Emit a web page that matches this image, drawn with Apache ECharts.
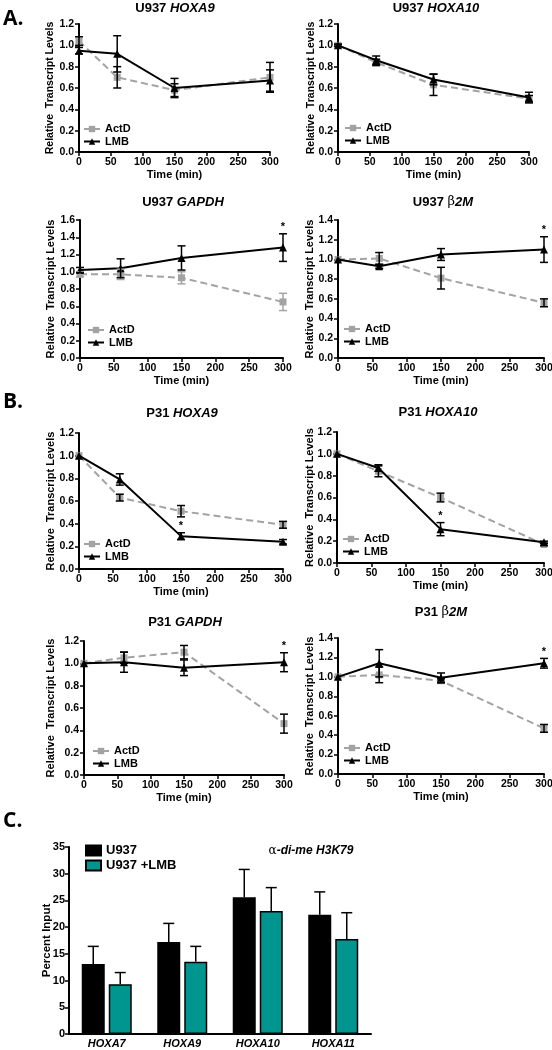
<!DOCTYPE html>
<html><head><meta charset="utf-8">
<script src="https://cdn.jsdelivr.net/npm/echarts@6/dist/echarts.min.js"></script>
<style>html,body{margin:0;padding:0;background:#fff}#c{width:552px;height:1050px}</style>
</head><body><div id="c"></div>
<script>
// ---------- DATA ----------
const timePoints = [0, 60, 150, 300];
const timeTicks = [0, 50, 100, 150, 200, 250, 300];

// Panel A: U937
const u937Hoxa9ActD = [1.04, 0.70, 0.58, 0.70];
const u937Hoxa9ActDErr = [0.04, 0.10, 0.06, 0.14];
const u937Hoxa9LMB = [0.95, 0.92, 0.60, 0.67];
const u937Hoxa9LMBErr = [0.03, 0.17, 0.09, 0.10];
const u937Hoxa9Sig = [0, 0, 0, 0];

const u937Hoxa10ActD = [1.00, 0.84, 0.63, 0.50];
const u937Hoxa10ActDErr = [0.01, 0.03, 0.10, 0.03];
const u937Hoxa10LMB = [1.00, 0.86, 0.68, 0.51];
const u937Hoxa10LMBErr = [0.01, 0.04, 0.05, 0.05];
const u937Hoxa10Sig = [0, 0, 0, 0];

const u937GapdhActD = [0.97, 0.97, 0.93, 0.65];
const u937GapdhActDErr = [0.03, 0.06, 0.07, 0.10];
const u937GapdhLMB = [1.02, 1.04, 1.16, 1.28];
const u937GapdhLMBErr = [0.03, 0.11, 0.14, 0.16];
const u937GapdhSig = [0, 0, 0, 1];

const u937B2mActD = [1.00, 1.01, 0.81, 0.56];
const u937B2mActDErr = [0.00, 0.06, 0.11, 0.04];
const u937B2mLMB = [1.00, 0.93, 1.05, 1.10];
const u937B2mLMBErr = [0.00, 0.02, 0.06, 0.13];
const u937B2mSig = [0, 0, 0, 1];

// Panel B: P31
const p31Hoxa9ActD = [1.00, 0.63, 0.51, 0.39];
const p31Hoxa9ActDErr = [0.00, 0.03, 0.05, 0.03];
const p31Hoxa9LMB = [1.00, 0.79, 0.29, 0.24];
const p31Hoxa9LMBErr = [0.00, 0.05, 0.03, 0.02];
const p31Hoxa9Sig = [0, 0, 1, 0];

const p31Hoxa10ActD = [1.00, 0.84, 0.60, 0.17];
const p31Hoxa10ActDErr = [0.00, 0.05, 0.04, 0.01];
const p31Hoxa10LMB = [1.00, 0.87, 0.31, 0.19];
const p31Hoxa10LMBErr = [0.00, 0.03, 0.06, 0.01];
const p31Hoxa10Sig = [0, 0, 1, 0];

const p31GapdhActD = [1.00, 1.05, 1.10, 0.46];
const p31GapdhActDErr = [0.00, 0.05, 0.06, 0.085];
const p31GapdhLMB = [1.00, 1.01, 0.96, 1.01];
const p31GapdhLMBErr = [0.00, 0.09, 0.07, 0.085];
const p31GapdhSig = [0, 0, 0, 1];

const p31B2mActD = [1.00, 1.02, 0.96, 0.47];
const p31B2mActDErr = [0.00, 0.08, 0.02, 0.04];
const p31B2mLMB = [1.00, 1.14, 0.99, 1.14];
const p31B2mLMBErr = [0.00, 0.14, 0.05, 0.05];
const p31B2mSig = [0, 0, 0, 1];

// Panel C: ChIP
const chipGenes = ['HOXA7', 'HOXA9', 'HOXA10', 'HOXA11'];
const chipU937 = [13.1, 17.2, 25.6, 22.3];
const chipU937Err = [3.3, 3.5, 5.2, 4.3];
const chipU937LMB = [9.3, 13.5, 23.0, 17.8];
const chipU937LMBErr = [2.2, 2.9, 4.4, 4.9];

// ---------- LAYOUT / STYLE ----------
const FONT = 'Liberation Sans, Arial, sans-serif';
const GREY = '#a3a3a3';
const TEAL = '#00968f';

const panels = [
  {cell:'U937', gene:'HOXA9', actd:u937Hoxa9ActD, actdErr:u937Hoxa9ActDErr, lmb:u937Hoxa9LMB, lmbErr:u937Hoxa9LMBErr, sig:u937Hoxa9Sig, ymax:1.2,
   grid:[79,24,191,128], title:[175,8], leg:[83,128], nameGap:23, nameSize:10.5, actdErrColor:'#000'},
  {cell:'U937', gene:'HOXA10', actd:u937Hoxa10ActD, actdErr:u937Hoxa10ActDErr, lmb:u937Hoxa10LMB, lmbErr:u937Hoxa10LMBErr, sig:u937Hoxa10Sig, ymax:1.2,
   grid:[338,24,191,128], title:[436,8], leg:[344,127], nameGap:21, nameSize:10.5, actdErrColor:'#000'},
  {cell:'U937', gene:'GAPDH', actd:u937GapdhActD, actdErr:u937GapdhActDErr, lmb:u937GapdhLMB, lmbErr:u937GapdhLMBErr, sig:u937GapdhSig, ymax:1.6,
   grid:[80,220,203,138], title:[183,202], leg:[87,329], nameGap:24, nameSize:11, actdErrColor:GREY},
  {cell:'U937', gene:'β2M', actd:u937B2mActD, actdErr:u937B2mActDErr, lmb:u937B2mLMB, lmbErr:u937B2mLMBErr, sig:u937B2mSig, ymax:1.4,
   grid:[338,220,206,138], title:[443,202], leg:[343,328], nameGap:23, nameSize:11, actdErrColor:'#000'},
  {cell:'P31', gene:'HOXA9', actd:p31Hoxa9ActD, actdErr:p31Hoxa9ActDErr, lmb:p31Hoxa9LMB, lmbErr:p31Hoxa9LMBErr, sig:p31Hoxa9Sig, ymax:1.2,
   grid:[79,433,204,136], title:[182,413], leg:[83,543], nameGap:23, nameSize:11, actdErrColor:'#000'},
  {cell:'P31', gene:'HOXA10', actd:p31Hoxa10ActD, actdErr:p31Hoxa10ActDErr, lmb:p31Hoxa10LMB, lmbErr:p31Hoxa10LMBErr, sig:p31Hoxa10Sig, ymax:1.2,
   grid:[337,432,207,131], title:[438,412], leg:[342,538], nameGap:22, nameSize:11, actdErrColor:'#000'},
  {cell:'P31', gene:'GAPDH', actd:p31GapdhActD, actdErr:p31GapdhActDErr, lmb:p31GapdhLMB, lmbErr:p31GapdhLMBErr, sig:p31GapdhSig, ymax:1.2,
   grid:[84,641,200,134], title:[185,622], leg:[92,750], nameGap:28, nameSize:11, actdErrColor:'#000'},
  {cell:'P31', gene:'β2M', actd:p31B2mActD, actdErr:p31B2mActDErr, lmb:p31B2mLMB, lmbErr:p31B2mLMBErr, sig:p31B2mSig, ymax:1.4,
   grid:[338,638,206,136], title:[441,612], leg:[343,747], nameGap:23, nameSize:11, actdErrColor:'#000'}
];

function errRenderer(color, withStar) {
  return function (params, api) {
    const xv = api.value(0), m = api.value(1), e = api.value(2), s = api.value(3);
    const children = [];
    const st = {stroke: color, lineWidth: 1.5};
    const top = api.coord([xv, m + e]);
    if (e > 0.001) {
      const bot = api.coord([xv, m - e]);
      children.push({type:'line', shape:{x1:top[0], y1:top[1], x2:bot[0], y2:bot[1]}, style:st});
      children.push({type:'line', shape:{x1:top[0]-4, y1:top[1], x2:top[0]+4, y2:top[1]}, style:st});
      children.push({type:'line', shape:{x1:bot[0]-4, y1:bot[1], x2:bot[0]+4, y2:bot[1]}, style:st});
    }
    if (withStar && s) {
      children.push({type:'text', x: top[0], y: top[1] - 1,
        style:{text:'*', fill:'#000', font:'bold 11px ' + FONT, align:'center', verticalAlign:'bottom', textAlign:'center', textVerticalAlign:'bottom'}});
    }
    return {type:'group', children};
  };
}

const grid = [], xAxis = [], yAxis = [], series = [], legend = [], graphic = [];

const axisLineStyle = {show:true, lineStyle:{color:'#000', width:2}};
const tickStyle = {show:true, inside:false, length:4, lineStyle:{color:'#000', width:1.5}};
const labelBase = {color:'#000', fontWeight:'bold', fontFamily:FONT};

panels.forEach((p, i) => {
  const [l, t, w, h] = p.grid;
  grid.push({left:l, top:t, width:w, height:h, containLabel:false, outerBoundsMode:'none'});
  xAxis.push({
    type:'value', gridIndex:i, min:timeTicks[0], max:timeTicks[timeTicks.length-1], interval:timeTicks[1]-timeTicks[0],
    axisLine:axisLineStyle, axisTick:tickStyle, splitLine:{show:false},
    axisLabel:Object.assign({fontSize:10.5, margin:5}, labelBase),
    name:'Time (min)', nameLocation:'middle', nameGap:17, nameMoveOverlap:false,
    nameTextStyle:Object.assign({fontSize:11}, labelBase)
  });
  yAxis.push({
    type:'value', gridIndex:i, min:0, max:p.ymax, interval:0.2,
    axisLine:axisLineStyle, axisTick:tickStyle, splitLine:{show:false},
    axisLabel:Object.assign({fontSize:10.5, margin:5, formatter:v => v.toFixed(1)}, labelBase),
    name:'Relative  Transcript Levels', nameLocation:'middle', nameGap:p.nameGap, nameRotate:90, nameMoveOverlap:false,
    nameTextStyle:Object.assign({fontSize:p.nameSize}, labelBase)
  });
  series.push({
    type:'line', name:'ActD', xAxisIndex:i, yAxisIndex:i, z:2,
    data: timePoints.map((tp, j) => [tp, p.actd[j]]),
    symbol:'rect', symbolSize:7, showAllSymbol:true,
    lineStyle:{color:GREY, width:2, type:[7,4]}, itemStyle:{color:GREY}
  });
  series.push({
    type:'line', name:'LMB', xAxisIndex:i, yAxisIndex:i, z:3,
    data: timePoints.map((tp, j) => [tp, p.lmb[j]]),
    symbol:'triangle', symbolSize:8,
    lineStyle:{color:'#000', width:2}, itemStyle:{color:'#000'}
  });
  series.push({
    type:'custom', name:'ActD err', xAxisIndex:i, yAxisIndex:i, z:4,
    data: timePoints.map((tp, j) => [tp, p.actd[j], p.actdErr[j], 0]),
    renderItem: errRenderer(p.actdErrColor, false), silent:true
  });
  series.push({
    type:'custom', name:'LMB err', xAxisIndex:i, yAxisIndex:i, z:5,
    data: timePoints.map((tp, j) => [tp, p.lmb[j], p.lmbErr[j], p.sig[j]]),
    renderItem: errRenderer('#000', true), silent:true
  });
  legend.push({
    orient:'vertical', left:p.leg[0], top:p.leg[1] - 4.5, padding:0, itemGap:1.5, itemWidth:16, itemHeight:8,
    data:['ActD', 'LMB'], selectedMode:false,
    textStyle:{color:'#000', fontWeight:'bold', fontSize:11, fontFamily:FONT}
  });
  const isB2m = p.gene === 'β2M';
  graphic.push({
    type:'text', x:p.title[0], y:p.title[1],
    style:{
      text: isB2m ? '{n|' + p.cell + ' }{g|β}{i|2M}' : '{n|' + p.cell + ' }{i|' + p.gene + '}',
      rich:{
        n:{fontSize:13, fontWeight:'bold', fontFamily:FONT, fill:'#000', color:'#000'},
        g:{fontSize:13, fontWeight:'normal', fontFamily:'DejaVu Serif, serif', fill:'#000', color:'#000'},
        i:{fontSize:13, fontWeight:'bold', fontStyle:'italic', fontFamily:FONT, fill:'#000', color:'#000'}
      },
      align:'center', verticalAlign:'middle', textAlign:'center', textVerticalAlign:'middle'
    }
  });
});

// Panel C bar chart
const ci = panels.length;
const BAR_W = 23, BAR_GAP = 4;
grid.push({left:69, top:847, width:302, height:187, containLabel:false, outerBoundsMode:'none'});
xAxis.push({
  type:'category', gridIndex:ci, data:chipGenes,
  axisLine:axisLineStyle, axisTick:{show:false}, splitLine:{show:false},
  axisLabel:Object.assign({fontSize:11, margin:4, fontStyle:'italic'}, labelBase)
});
yAxis.push({
  type:'value', gridIndex:ci, min:0, max:35, interval:5,
  axisLine:axisLineStyle, axisTick:tickStyle, splitLine:{show:false},
  axisLabel:Object.assign({fontSize:11, margin:4}, labelBase),
  name:'Percent Input', nameLocation:'middle', nameGap:16, nameRotate:90, nameMoveOverlap:false,
  nameTextStyle:Object.assign({fontSize:11.5}, labelBase)
});
series.push({
  type:'bar', name:'U937', xAxisIndex:ci, yAxisIndex:ci, data:chipU937,
  barWidth:BAR_W, barGap:(BAR_GAP / BAR_W * 100) + '%',
  itemStyle:{color:'#000', borderColor:'#000', borderWidth:1.5}
});
series.push({
  type:'bar', name:'U937 +LMB', xAxisIndex:ci, yAxisIndex:ci, data:chipU937LMB,
  barWidth:BAR_W,
  itemStyle:{color:TEAL, borderColor:'#000', borderWidth:1.5}
});
function barErr(offset) {
  return function (params, api) {
    const c = api.value(0), v = api.value(1), e = api.value(2);
    const p0 = api.coord([c, v]), p1 = api.coord([c, v + e]);
    const x = p0[0] + offset;
    const st = {stroke:'#000', lineWidth:1.5};
    return {type:'group', children:[
      {type:'line', shape:{x1:x, y1:p0[1], x2:x, y2:p1[1]}, style:st},
      {type:'line', shape:{x1:x-5.5, y1:p1[1], x2:x+5.5, y2:p1[1]}, style:st}
    ]};
  };
}
series.push({type:'custom', xAxisIndex:ci, yAxisIndex:ci, z:5, silent:true,
  data: chipGenes.map((g, j) => [j, chipU937[j], chipU937Err[j]]), renderItem: barErr(-(BAR_W + BAR_GAP) / 2)});
series.push({type:'custom', xAxisIndex:ci, yAxisIndex:ci, z:5, silent:true,
  data: chipGenes.map((g, j) => [j, chipU937LMB[j], chipU937LMBErr[j]]), renderItem: barErr((BAR_W + BAR_GAP) / 2)});
legend.push({
  orient:'vertical', left:85, top:844, padding:0, itemGap:2, itemWidth:15, itemHeight:10, icon:'rect',
  data:['U937', 'U937 +LMB'], selectedMode:false,
  textStyle:{color:'#000', fontWeight:'bold', fontSize:13, fontFamily:FONT}
});
graphic.push({
  type:'text', x:311, y:851,
  style:{
    text:'{g|α}{i|-di-me H3K79}',
    rich:{
      g:{fontSize:12, fontWeight:'normal', fontFamily:'DejaVu Serif, serif', fill:'#000', color:'#000'},
      i:{fontSize:12, fontWeight:'bold', fontStyle:'italic', fontFamily:FONT, fill:'#000', color:'#000'}
    },
    align:'center', verticalAlign:'middle', textAlign:'center', textVerticalAlign:'middle'
  }
});

// Panel letters
[['A.', 3, 19], ['B.', 3, 402], ['C.', 3, 821]].forEach(([txt, x, y]) => {
  graphic.push({type:'text', x, y, style:{text:txt, fill:'#000', font:'bold 21px Open Sans, sans-serif',
    align:'left', verticalAlign:'middle', textAlign:'left', textVerticalAlign:'middle'}});
});

const chart = echarts.init(document.getElementById('c'), null, {renderer:'canvas'});
chart.setOption({
  animation:false, backgroundColor:'#fff',
  grid, xAxis, yAxis, series, legend, graphic,
  tooltip:{show:false}
});
</script>
</body></html>
